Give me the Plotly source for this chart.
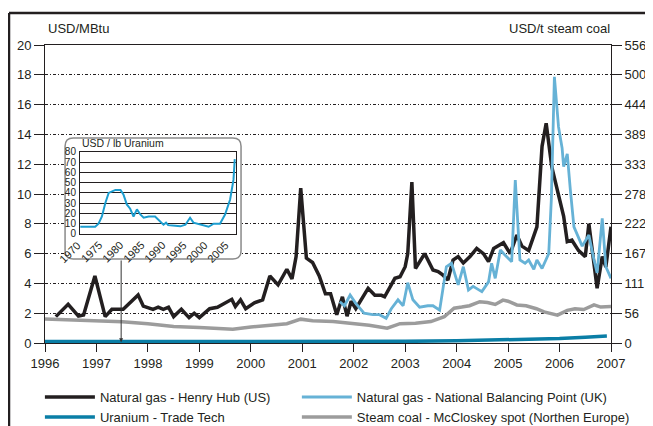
import plotly.graph_objects as go

# Natural gas - Henry Hub (USD/MBtu)
hh_year = [1996.21, 1996.45, 1996.65, 1996.75, 1996.97, 1997.17, 1997.3, 1997.52, 1997.81, 1997.91,
           1998.1, 1998.2, 1998.3, 1998.4, 1998.5, 1998.65, 1998.8, 1998.9, 1999.0, 1999.2,
           1999.35, 1999.63, 1999.7, 1999.8, 1999.9, 2000.07, 2000.23, 2000.37, 2000.53, 2000.7,
           2000.8, 2000.88, 2000.97, 2001.08, 2001.2, 2001.33, 2001.45, 2001.55, 2001.67, 2001.78,
           2001.87, 2001.95, 2002.04, 2002.28, 2002.41, 2002.54, 2002.6, 2002.8, 2002.9, 2003.0,
           2003.05, 2003.13, 2003.2, 2003.38, 2003.54, 2003.64, 2003.73, 2003.83, 2003.93, 2004.03,
           2004.13, 2004.26, 2004.39, 2004.52, 2004.62, 2004.72, 2004.91, 2005.04, 2005.17, 2005.27,
           2005.4, 2005.56, 2005.66, 2005.74, 2005.85, 2005.98, 2006.08, 2006.15, 2006.24, 2006.37,
           2006.5, 2006.57, 2006.63, 2006.73, 2006.83, 2006.9, 2007.0]
hh_val = [1.77, 2.6, 1.81, 1.88, 4.5, 1.77, 2.26, 2.26, 3.22, 2.48,
          2.26, 2.4, 2.26, 2.4, 1.77, 2.26, 1.7, 2.0, 1.7, 2.3,
          2.4, 2.93, 2.45, 2.9, 2.3, 2.7, 2.9, 4.5, 3.9, 4.95,
          4.3, 5.8, 10.4, 5.7, 5.4, 4.5, 3.3, 3.3, 1.9, 3.1,
          1.8, 2.8, 2.3, 3.67, 3.2, 3.2, 3.1, 4.34, 4.45, 5.12,
          6.0, 10.8, 5.0, 6.0, 4.9, 4.8, 4.57, 4.23, 5.57, 5.8,
          5.37, 5.8, 6.35, 6.0, 5.46, 6.35, 6.73, 6.0, 7.25, 6.5,
          6.2, 7.8, 13.2, 14.75, 11.8, 9.8, 8.5, 6.8, 6.9, 6.2,
          5.8, 8.0, 6.5, 3.67, 5.8, 5.1, 7.8]

# Natural gas - National Balancing Point (USD/MBtu)
nbp_year = [2001.73, 2001.82, 2001.93, 2002.04, 2002.2, 2002.37, 2002.5, 2002.63, 2002.73, 2002.86,
            2002.96, 2003.05, 2003.15, 2003.28, 2003.44, 2003.54, 2003.67, 2003.8, 2003.9, 2004.03,
            2004.13, 2004.23, 2004.32, 2004.49, 2004.62, 2004.68, 2004.75, 2004.85, 2004.94, 2005.07,
            2005.14, 2005.23, 2005.33, 2005.4, 2005.5, 2005.56, 2005.66, 2005.79, 2005.84, 2005.9,
            2005.98, 2006.05, 2006.08, 2006.15, 2006.21, 2006.28, 2006.44, 2006.57, 2006.67, 2006.73,
            2006.83, 2006.9, 2007.0]
nbp_val = [2.77, 2.5, 3.22, 2.66, 2.0, 1.9, 1.9, 1.66, 2.3, 2.9,
           2.5, 4.05, 2.9, 2.4, 2.5, 2.5, 2.2, 5.12, 5.35, 3.9,
           5.12, 3.56, 3.8, 3.45, 4.1, 5.35, 4.34, 6.24, 5.9, 5.46,
           10.94, 5.57, 5.35, 5.57, 4.95, 5.57, 5.0, 6.0, 9.6, 17.87,
           14.5, 13.07, 11.83, 12.7, 10.27, 7.8, 6.5, 7.25, 5.57, 4.7,
           8.37, 5.12, 4.34]

# Uranium - Trade Tech (USD/MBtu equivalent)
ur_year = [1996.0, 1997.0, 1998.0, 1999.0, 2000.0, 2001.0, 2002.0, 2003.0, 2004.0, 2004.8,
           2005.5, 2006.0, 2006.5, 2006.92]
ur_val = [0.1, 0.1, 0.09, 0.09, 0.08, 0.08, 0.09, 0.11, 0.15, 0.2,
          0.25, 0.3, 0.38, 0.47]

# Steam coal - McCloskey spot (USD/t)
coal_year = [1996.0, 1996.5, 1997.0, 1997.5, 1998.0, 1998.5, 1999.0, 1999.4, 1999.65, 2000.0,
             2000.4, 2000.7, 2000.97, 2001.2, 2001.6, 2002.0, 2002.3, 2002.65, 2002.9, 2003.2,
             2003.5, 2003.76, 2003.95, 2004.1, 2004.25, 2004.45, 2004.6, 2004.75, 2004.9, 2005.0,
             2005.17, 2005.35, 2005.55, 2005.7, 2005.96, 2006.15, 2006.3, 2006.47, 2006.67, 2006.8,
             2007.0]
coal_val = [45, 43, 42, 39.5, 36, 31, 29, 27, 25.5, 30,
            33, 36, 44.5, 41.7, 40, 36, 33, 27.5, 36, 37,
            40, 49, 65, 67, 69.5, 77, 75.6, 72, 80, 78,
            71, 69.5, 64, 58, 52, 61, 64, 62.5, 71, 67,
            68]

# Inset: uranium USD/lb, 1970-2006
in_year = [1970.07, 1973.6, 1974.4, 1975.2, 1976.0, 1976.8, 1978.4, 1979.6, 1980.3, 1981.1,
           1981.9, 1982.7, 1983.5, 1984.3, 1985.1, 1986.3, 1987.8, 1989.0, 1989.8, 1990.4,
           1990.9, 1992.6, 1993.8, 1995.0, 1996.1, 1996.9, 1998.9, 2000.5, 2001.7, 2003.2,
           2004.4, 2005.6, 2006.4, 2006.7]
in_val = [7, 7, 10, 17, 30, 40, 43, 43, 38.6, 28.8,
          24.6, 17, 24, 19, 15.8, 17, 17, 12, 9, 11,
          8.6, 8, 7.4, 9, 15.8, 11, 9, 7, 10, 10,
          19, 33.6, 53, 73]
in_ticks = [1970, 1975, 1980, 1985, 1990, 1995, 2000, 2005]

coal_ticks = [0, 55.6, 111.2, 166.8, 222.4, 278, 333.6, 389.2, 444.8, 500.4, 556]
coal_text = ['0', '56', '111', '167', '222', '278', '333', '389', '444', '500', '556']

FONT = 'Liberation Sans, Arial, sans-serif'
NARROW = 'Liberation Sans Narrow, Liberation Sans, sans-serif'
INSET_BOTTOM = 0.366

fig = go.Figure()
fig.add_trace(go.Scatter(x=coal_year, y=coal_val, yaxis='y2', mode='lines',
                         name='Steam coal - McCloskey spot (Northen Europe)',
                         line=dict(color='#9c9c9c', width=3.5), legend='legend2', legendrank=2))
fig.add_trace(go.Scatter(x=ur_year, y=ur_val, mode='lines', name='Uranium - Trade Tech',
                         line=dict(color='#0a7ea6', width=3.5), legend='legend', legendrank=2))
fig.add_trace(go.Scatter(x=hh_year, y=hh_val, mode='lines', name='Natural gas - Henry Hub (US)',
                         line=dict(color='#231f20', width=3.5), legend='legend', legendrank=1))
fig.add_trace(go.Scatter(x=nbp_year, y=nbp_val, mode='lines',
                         name='Natural gas - National Balancing Point (UK)',
                         line=dict(color='#66b2d6', width=2.8), legend='legend2', legendrank=1))
fig.add_trace(go.Scatter(x=in_year, y=in_val, xaxis='x2', yaxis='y3', mode='lines',
                         line=dict(color='#1c9dcf', width=2), showlegend=False))

# rounded white box behind the inset
x0, x1, y0, y1 = 1996.39, 1999.81, 5.64, 13.76
rx, ry = 0.16, 0.55
box = (f'M{x0+rx},{y0} L{x1-rx},{y0} Q{x1},{y0} {x1},{y0+ry} L{x1},{y1-ry} Q{x1},{y1} {x1-rx},{y1} '
       f'L{x0+rx},{y1} Q{x0},{y1} {x0},{y1-ry} L{x0},{y0+ry} Q{x0},{y0} {x0+rx},{y0} Z')

annotations = [
    dict(text='USD/MBtu', xref='paper', yref='paper', x=0.002, y=1.057, xanchor='left',
         yanchor='middle', showarrow=False, font=dict(size=13)),
    dict(text='USD/t steam coal', xref='paper', yref='paper', x=1.002, y=1.057,
         xanchor='right', yanchor='middle', showarrow=False, font=dict(size=13)),
    dict(text='USD / lb Uranium', xref='paper', yref='paper', x=0.062, y=0.645,
         xanchor='left', yanchor='bottom', showarrow=False, font=dict(family=NARROW, size=10.5)),
    dict(text='', x=1997.48, y=0.05, ax=1997.48, ay=5.64, xref='x', yref='y',
         axref='x', ayref='y', showarrow=True, arrowhead=2, arrowsize=0.8,
         arrowwidth=1, arrowcolor='#333333'),
]
# slanted year labels of the inset
for yr in in_ticks:
    annotations.append(dict(text=str(yr), x=yr, xref='x2', y=INSET_BOTTOM, yref='paper',
                            xanchor='right', yanchor='top', textangle=-45, showarrow=False,
                            xshift=6, yshift=-3, font=dict(size=11)))

# the page body adds an 8px margin, so the figure is 8px smaller than the window
fig.update_layout(
    width=645, height=418,
    margin=dict(l=37, r=42, t=37, b=83, autoexpand=False),
    paper_bgcolor='white', plot_bgcolor='white',
    font=dict(family=FONT, size=13, color='#231f20'),
    xaxis=dict(range=[1996, 2007], tickvals=list(range(1996, 2008)), ticks='outside', ticklen=8,
               tickcolor='#231f20', showline=True, linecolor='#231f20', linewidth=1, mirror=True,
               showgrid=False, zeroline=False, domain=[0, 1]),
    yaxis=dict(range=[0, 20], dtick=2, ticks='outside', ticklen=10, tickcolor='#231f20',
               showline=True, linecolor='#231f20', linewidth=1, showgrid=True,
               gridcolor='#231f20', gridwidth=1, griddash='3px,2px,1px,2px', zeroline=False),
    yaxis2=dict(overlaying='y', side='right', range=[0, 556], tickvals=coal_ticks,
                ticktext=coal_text, ticks='outside', ticklen=10, tickcolor='#231f20',
                showline=True, linecolor='#231f20', linewidth=1, showgrid=False, zeroline=False),
    xaxis2=dict(domain=[0.0618, 0.3375], anchor='y3', range=[1970, 2007],
                tickvals=in_ticks, showticklabels=False, ticks='', showline=True, mirror=True,
                linecolor='#231f20', showgrid=False, zeroline=False),
    yaxis3=dict(domain=[INSET_BOTTOM, 0.641], anchor='x2', range=[0, 80], dtick=10, ticks='',
                tickfont=dict(family=NARROW, size=10), showline=True, mirror=True,
                linecolor='#231f20', showgrid=True, gridcolor='#231f20', gridwidth=1,
                zeroline=False, ticklabelstandoff=1),
    legend=dict(x=-0.009, xanchor='left', y=-0.131, yanchor='top', orientation='v',
                font=dict(size=13), bgcolor='rgba(0,0,0,0)', itemwidth=50, tracegroupgap=0),
    legend2=dict(x=0.445, xanchor='left', y=-0.131, yanchor='top', orientation='v',
                 font=dict(size=13), bgcolor='rgba(0,0,0,0)', itemwidth=50, tracegroupgap=0),
    shapes=[
        dict(type='path', path=box, xref='x', yref='y', layer='between',
             fillcolor='white', line=dict(color='#8a8a8a', width=1.5)),
        dict(type='line', xref='paper', yref='paper', x0=-0.0636, x1=1.08, y0=1.107, y1=1.107,
             line=dict(color='#231f20', width=2.5)),
        dict(type='line', xref='paper', yref='paper', x0=-0.0636, x1=-0.0636, y0=1.107, y1=-0.3,
             line=dict(color='#231f20', width=2.5)),
    ],
    annotations=annotations,
)

fig.write_html("out.html")
